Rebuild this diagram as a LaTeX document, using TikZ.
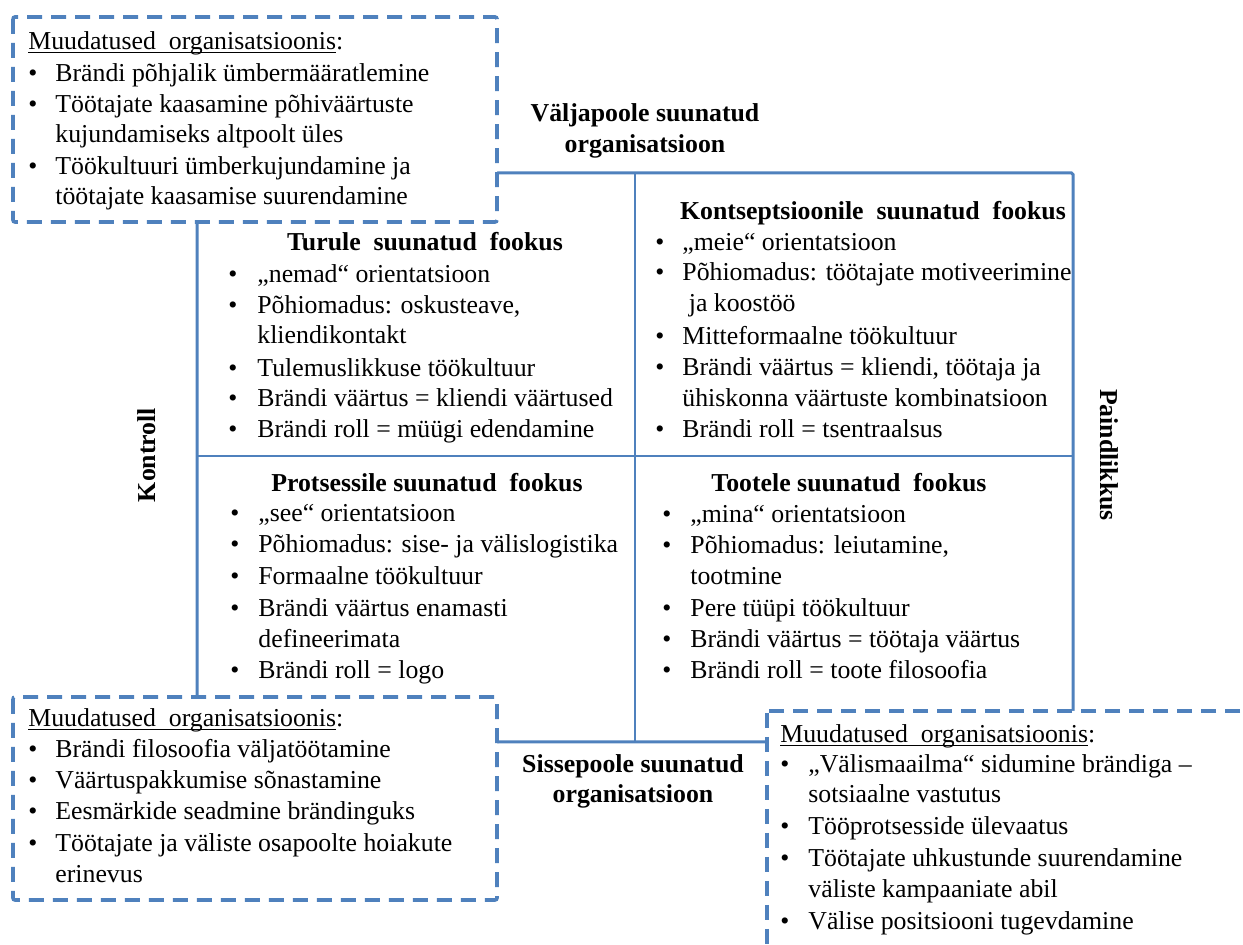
\documentclass[tikz,border=0pt]{standalone}
\usepackage{fontspec}
\setmainfont{Liberation Serif}
\definecolor{frameblue}{RGB}{79,129,189}
% body size used throughout the picture
\newcommand\bodysize{\fontsize{12.9pt}{15.5pt}\selectfont}
% underline that sits just under the baseline, through the descenders
\newcommand\ulin[1]{\setbox0=\hbox{#1}\rlap{\rule[-1.4pt]{\wd0}{0.55pt}}\box0}
\tikzset{
  frameline/.style={draw=frameblue, line width=1.5pt, rounded corners=0.8pt},
  divider/.style={draw=frameblue, line width=0.7pt},
  dbox/.style={draw=frameblue, fill=white, line width=1.8pt,
               dash pattern=on 7.5pt off 4.5pt, rounded corners=1pt},
  txt/.style={anchor=base west, inner sep=0pt, font=\bodysize},
  bul/.style={anchor=base, inner sep=0pt, font=\bodysize},
  ttl/.style={anchor=base, inner sep=0pt, font=\bodysize\bfseries},
  axis/.style={inner sep=0pt, font=\bodysize\bfseries},
}
% \itemlines{prefix}{bullet x}{text x}{y/bullet?/text, ...}
\newcommand\itemlines[4]{%
  \foreach \yy/\bb/\tt [count=\ii] in {#4} {
    \node[txt] (#1-\ii) at (#3,\yy) {\tt};
    \ifnum\bb=1 \node[bul] (#1-b\ii) at (#2,\yy) {•};\fi
  }%
}
\begin{document}
\begin{tikzpicture}[x=0.5pt, y=-0.5pt]
\useasboundingbox (0,0) rectangle (1243,945);
\clip (0,0) rectangle (1243,945);

% quadrant frame and dividers
\coordinate (nw) at (197,173);
\coordinate (se) at (1073,742);
\coordinate (vt) at (635,173);
\coordinate (vb) at (635,742);
\coordinate (hl) at (197,456);
\coordinate (hr) at (1073,456);
\draw[frameline] (nw) rectangle (se);
\draw[divider] (vt) -- (vb);
\draw[divider] (hl) -- (hr);

% dashed boxes with the changes in the organisation
\draw[dbox] (13,17) rectangle (497,222);
\draw[dbox] (13,697) rectangle (497,900);
\draw[dbox] (767,711) rectangle (1270,975);

% axis labels
\node[ttl] (outT1) at (645,122) {Väljapoole suunatud};
\node[ttl] (outT2) at (645,153) {organisatsioon};
\node[ttl] (inT1) at (633,773) {Sissepoole suunatud};
\node[ttl] (inT2) at (633,803) {organisatsioon};
\node[axis, rotate=90] (ctrl) at (147,455) {Kontroll};
\node[axis, rotate=-90] (flex) at (1109,455) {Paindlikkus};

% top-left box
\node[txt] (tlh) at (28,50) {\ulin{Muudatused\ \ organisatsioonis}:};
\itemlines{tlb}{33}{55}{
  82/1/{Brändi põhjalik ümbermääratlemine},
  113/1/{Töötajate kaasamine põhiväärtuste},
  143/0/{kujundamiseks altpoolt üles},
  175/1/{Töökultuuri ümberkujundamine ja},
  205/0/{töötajate kaasamise suurendamine}}

% bottom-left box
\node[txt] (blh) at (28,727) {\ulin{Muudatused\ \ organisatsioonis}:};
\itemlines{blb}{33}{55}{
  758/1/{Brändi filosoofia väljatöötamine},
  789/1/{Väärtuspakkumise sõnastamine},
  820/1/{Eesmärkide seadmine brändinguks},
  852/1/{Töötajate ja väliste osapoolte hoiakute},
  883/0/{erinevus}}

% bottom-right box
\node[txt] (brh) at (780,743) {\ulin{Muudatused\ \ organisatsioonis}:};
\itemlines{brb}{785}{808}{
  773/1/{„Välismaailma“ sidumine brändiga –},
  803/0/{sotsiaalne vastutus},
  835/1/{Tööprotsesside ülevaatus},
  867/1/{Töötajate uhkustunde suurendamine},
  898/0/{väliste kampaaniate abil},
  930/1/{Välise positsiooni tugevdamine}}

% quadrant: market focus
\node[ttl] (q1t) at (425,251) {Turule\ \ suunatud\ \ fookus};
\itemlines{q1}{233}{257}{
  283/1/{„nemad“ orientatsioon},
  314/1/{Põhiomadus: oskusteave,},
  344/0/{kliendikontakt},
  377/1/{Tulemuslikkuse töökultuur},
  407/1/{Brändi väärtus = kliendi väärtused},
  438/1/{Brändi roll = müügi edendamine}}

% quadrant: concept focus
\node[ttl] (q2t) at (873,220) {Kontseptsioonile\ \ suunatud\ \ fookus};
\itemlines{q2}{660}{682}{
  251/1/{„meie“ orientatsioon},
  281/1/{Põhiomadus: töötajate motiveerimine},
  312/0/{\ ja koostöö},
  345/1/{Mitteformaalne töökultuur},
  376/1/{Brändi väärtus = kliendi, töötaja ja},
  407/0/{ühiskonna väärtuste kombinatsioon},
  438/1/{Brändi roll = tsentraalsus}}

% quadrant: process focus
\node[ttl] (q3t) at (427,492) {Protsessile suunatud\ \ fookus};
\itemlines{q3}{235}{258}{
  522/1/{„see“ orientatsioon},
  553/1/{Põhiomadus: sise- ja välislogistika},
  585/1/{Formaalne töökultuur},
  617/1/{Brändi väärtus enamasti},
  648/0/{defineerimata},
  679/1/{Brändi roll = logo}}

% quadrant: product focus
\node[ttl] (q4t) at (849,492) {Tootele suunatud\ \ fookus};
\itemlines{q4}{667}{690}{
  523/1/{„mina“ orientatsioon},
  554/1/{Põhiomadus: leiutamine,},
  585/0/{tootmine},
  617/1/{Pere tüüpi töökultuur},
  648/1/{Brändi väärtus = töötaja väärtus},
  679/1/{Brändi roll = toote filosoofia}}
\end{tikzpicture}
\end{document}
